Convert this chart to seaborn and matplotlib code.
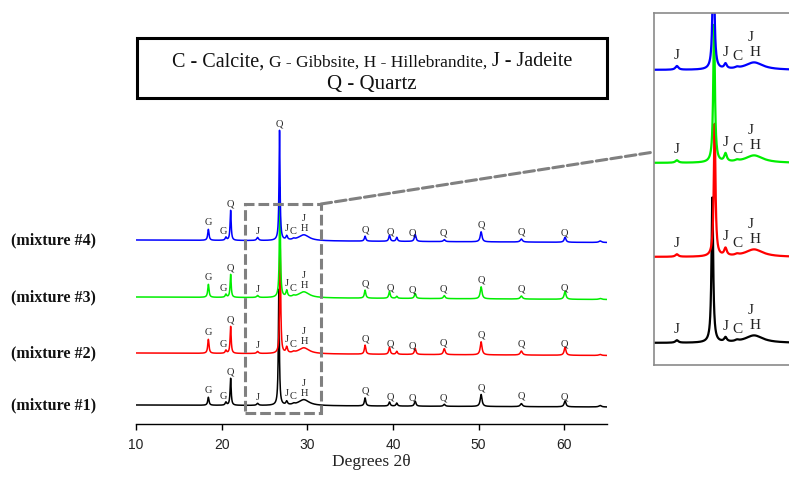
import numpy as np
import pandas as pd
import matplotlib
matplotlib.use("Agg")
import matplotlib.pyplot as plt
import seaborn as sns
from matplotlib.patches import Rectangle, ConnectionPatch

sns.set_theme(style="white")
plt.rcParams["font.family"] = ["Liberation Serif", "DejaVu Serif"]

W, H = 789, 482

# ---- data (degrees 2theta / pixel heights) ----
samples = ["mixture #1", "mixture #2", "mixture #3", "mixture #4"]
colors = ["#000000", "#ff0000", "#00ee00", "#0000ff"]

# trace level (stack offset) at 10 and at 65 degrees
base_start = [19.0, 71.0, 127.0, 184.0]
base_end = [17.0, 68.5, 124.5, 181.5]

# main quartz reflection, slightly different per trace
quartz_main_pos = [26.68, 26.84, 26.80, 26.76]
quartz_main_height = [116, 106, 110, 110]

peak_pos = [18.45, 20.5, 21.05, 24.2, 27.6, 28.4, 29.6,
            36.75, 39.6, 40.45, 42.6, 46.0, 50.3, 55.0, 60.1, 64.2]
peak_fwhm = [0.18, 0.2, 0.15, 0.25, 0.22, 0.3, 1.5,
             0.2, 0.2, 0.2, 0.22, 0.25, 0.25, 0.3, 0.25, 0.35]
peak_height = {
    "mixture #1": [8, 3, 27, 2, 3.5, 1, 6, 8, 4, 3, 5, 2, 12, 3, 6, 1.5],
    "mixture #2": [14, 3, 27, 2, 6, 1, 6, 9, 7, 3, 6, 6, 13, 4, 8, 1],
    "mixture #3": [13, 3, 23, 2, 6.5, 1, 6, 8, 7, 2, 5, 3, 12, 3, 8, 1],
    "mixture #4": [11, 3, 30, 3, 4, 1, 6, 5, 6, 4, 7, 2, 10, 3, 5, 1.5],
}

# phase marks on the full pattern
mark_letter = ["G", "G", "Q", "J", "J", "C", "H", "J",
               "Q", "Q", "Q", "Q", "Q", "Q", "Q"]
mark_pos = [18.45, 20.15, 21.05, 24.2, 27.55, 28.3, 29.7, 29.55,
            36.75, 39.7, 42.3, 45.9, 50.3, 55.0, 60.0]
# phase marks in the zoomed window
zoom_letter = ["J", "J", "C", "H", "J"]
zoom_pos = [24.2, 27.6, 28.45, 29.7, 29.35]

legend_lines = [
    [("C - Calcite,", 14.5), ("G - Gibbsite, H - Hillebrandite,", 12.5),
     ("J - Jadeite", 14.5)],
    [("Q - Quartz", 15)],
]

# ---- build the traces ----
grid = np.linspace(10, 65, 5501)
rows = []
for i, s in enumerate(samples):
    y = np.interp(grid, [10, 65], [base_start[i], base_end[i]])
    pos = [quartz_main_pos[i]] + peak_pos
    fw = [0.14] + peak_fwhm
    hh = [quartz_main_height[i]] + peak_height[s]
    sig = np.zeros_like(grid)
    for p, w, h in zip(pos, fw, hh):
        g = w / 2
        sig += h * g**2 / ((grid - p) ** 2 + g**2)
    rows.append(pd.DataFrame({"two_theta": grid, "level": y, "signal": sig,
                              "sample": s}))
df = pd.concat(rows, ignore_index=True)
df["intensity"] = df["level"] + df["signal"]

# zoom window offsets / scale
zoom_base = {"mixture #1": 22, "mixture #2": 108, "mixture #3": 202,
             "mixture #4": 295}
zoom_scale = 1.25
df["zoom"] = df["sample"].map(zoom_base) + zoom_scale * df["signal"]

fig = plt.figure(figsize=(W / 100, H / 100), dpi=100)
fig.patch.set_facecolor("white")

# main axes: x 10..65 spans 136..607 px, bottom spine at y=424
ax = fig.add_axes([136 / W, 1 - 424 / H, (607 - 136) / W, (424 - 110) / H])
sns.lineplot(data=df, x="two_theta", y="intensity", hue="sample",
             hue_order=samples, palette=colors, estimator=None, sort=False,
             linewidth=1.1, legend=False, ax=ax)
ax.set_xlim(10, 65)
ax.set_ylim(0, 314)
for side in ["left", "top", "right"]:
    ax.spines[side].set_visible(False)
ax.spines["bottom"].set_color("black")
ax.spines["bottom"].set_linewidth(1.0)
ax.set_yticks([])
ax.set_ylabel("")
ax.set_xticks([10, 20, 30, 40, 50, 60])
ax.tick_params(axis="x", bottom=True, direction="out", length=4, width=1,
               color="black", labelsize=10, pad=6, labelcolor="#222222")
for lab in ax.get_xticklabels():
    lab.set_fontfamily("Liberation Sans")
ax.set_xlabel("Degrees 2θ", fontsize=12.5, color="#222222")
ax.xaxis.set_label_coords(0.5, -(462.5 - 424) / 314)
ax.xaxis.label.set_va("center")
ax.set_facecolor("none")

lift_main = [2, 4, 2, 1, 3, 2, 2, 12, 2, 2, 3, 3, 2, 3, 2]
for i, s in enumerate(samples):
    sub = df[df["sample"] == s]
    for let, x, d in zip(mark_letter, mark_pos, lift_main):
        yv = np.interp(x, sub["two_theta"], sub["intensity"])
        ax.text(x, yv + d, let, ha="center", va="bottom", fontsize=7.5,
                color="#222222", clip_on=False)
    ax.annotate(f"({s})", xy=(11 / W, base_start[i]),
                xycoords=("figure fraction", "data"), ha="left", va="center",
                fontsize=11.5, fontweight="bold", color="#111111",
                annotation_clip=False)
top = df[df["sample"] == samples[-1]]
ax.text(quartz_main_pos[-1],
        np.interp(quartz_main_pos[-1], top["two_theta"], top["intensity"]) + 2,
        "Q", ha="center", va="bottom", fontsize=7.5, color="#222222")

# dashed window on the main pattern
ax.add_patch(Rectangle((22.73, 11), 31.6 - 22.73, 220 - 11, fill=False,
                       ec="#808080", lw=2.2, ls=(0, (3.5, 1.3)), zorder=5,
                       clip_on=False))

# zoomed window
axin = fig.add_axes([654 / W, 1 - 365 / H, 141 / W, 352 / H])
win = df[(df["two_theta"] > 22) & (df["two_theta"] < 33)]
sns.lineplot(data=win, x="two_theta", y="zoom", hue="sample",
             hue_order=samples, palette=colors, estimator=None, sort=False,
             linewidth=1.6, legend=False, ax=axin)
axin.set_xlim(22.6, 22.6 + 141 / 14.3)
axin.set_ylim(0, 352)
axin.set_xticks([])
axin.set_yticks([])
axin.set_xlabel("")
axin.set_ylabel("")
for sp in axin.spines.values():
    sp.set_color("#8a8a8a")
    sp.set_linewidth(1.2)

lift_zoom = [4, 4, 3, 4, 19]
for s in samples:
    sub = win[win["sample"] == s]
    for let, x, d in zip(zoom_letter, zoom_pos, lift_zoom):
        yv = np.interp(x, sub["two_theta"], sub["zoom"])
        axin.text(x, yv + d, let, ha="center", va="bottom", fontsize=11,
                  color="#222222")

con = ConnectionPatch(xyA=(31.6, 220), coordsA=ax.transData,
                      xyB=(0, (365 - 152) / 352), coordsB=axin.transAxes,
                      color="#808080", lw=2.2, ls=(0, (3.5, 1.3)))
fig.add_artist(con)

# phase legend box
fig.add_artist(Rectangle((137 / W, 1 - 98 / H), 470 / W, 60 / H,
                         transform=fig.transFigure, fill=False, ec="black",
                         lw=2.2))
renderer = fig.canvas.get_renderer()
for line, y_px in zip(legend_lines, [66.5, 88.5]):
    texts = [fig.text(0, 0, t, fontsize=sz, va="baseline", ha="left",
                      color="#111111") for t, sz in line]
    widths = [t.get_window_extent(renderer).width for t in texts]
    gap = 5
    total = sum(widths) + gap * (len(texts) - 1)
    x = 372 - total / 2
    for t, w in zip(texts, widths):
        t.set_position((x / W, 1 - y_px / H))
        x += w + gap

fig.savefig("out.png", dpi=100)
